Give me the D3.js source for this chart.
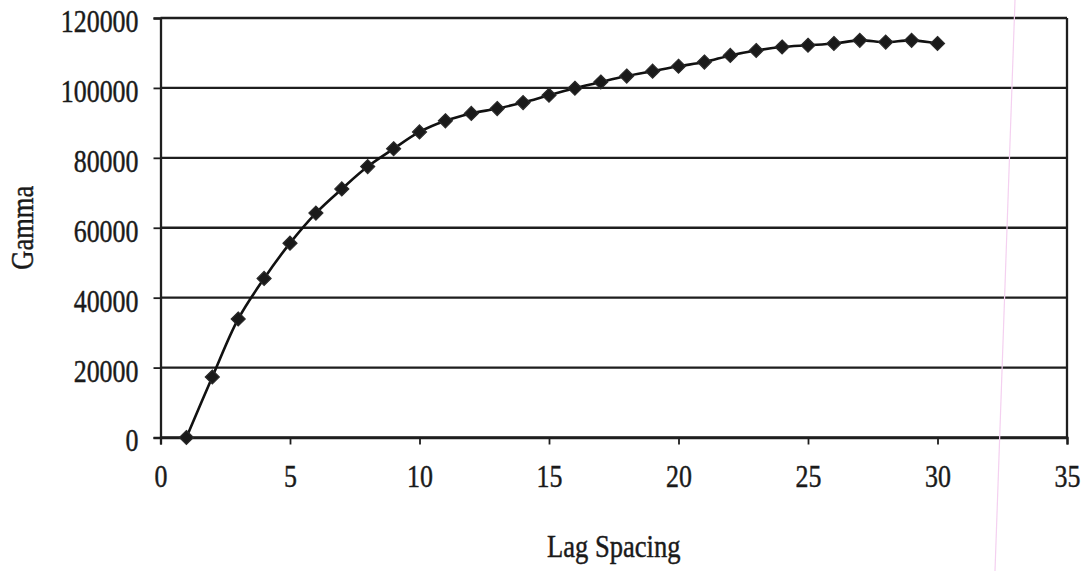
<!DOCTYPE html>
<html>
<head>
<meta charset="utf-8">
<script src="https://cdn.jsdelivr.net/npm/d3@7"></script>
<style>
  html, body { margin: 0; padding: 0; background: #fff; }
  svg { display: block; }
  text { font-family: "Liberation Serif", "Times New Roman", serif; fill: #1a1a1a; stroke: #1a1a1a; stroke-width: 0.45px; }
</style>
</head>
<body>
<svg id="chart" width="1084" height="571"></svg>
<script>
// ---- data ----
const lags = [1,2,3,4,5,6,7,8,9,10,11,12,13,14,15,16,17,18,19,20,21,22,23,24,25,26,27,28,29,30];
const gamma = [0,17300,33900,45500,55600,64200,71100,77500,82600,87400,90600,92700,94100,95800,97900,99900,101700,103400,104800,106200,107400,109300,110700,111700,112200,112700,113600,113100,113600,112700];
const xTicks = [0,5,10,15,20,25,30,35];
const yTicks = [0,20000,40000,60000,80000,100000,120000];
const xTitle = "Lag Spacing";
const yTitle = "Gamma";

const W = 1084, H = 571;
const m = { left: 160.5, right: W - 1067, top: 18, bottom: H - 437.5 };
const svg = d3.select("#chart");

const x = d3.scaleLinear().domain([0, 35]).range([m.left, W - m.right]);
const y = d3.scaleLinear().domain([0, 120000]).range([H - m.bottom, m.top]);

const ink = "#1e1e1e";

function condense(sel, f) {
  sel.each(function () {
    const len = this.getComputedTextLength();
    d3.select(this).attr("textLength", len * f).attr("lengthAdjust", "spacingAndGlyphs");
  });
}

// gridlines
svg.append("g").selectAll("line").data(yTicks).join("line")
  .attr("x1", x(0)).attr("x2", x(35))
  .attr("y1", d => y(d)).attr("y2", d => y(d))
  .attr("stroke", ink).attr("stroke-width", 2.3);

// right border
svg.append("line")
  .attr("x1", x(35)).attr("x2", x(35)).attr("y1", y(120000)).attr("y2", y(0))
  .attr("stroke", ink).attr("stroke-width", 2.3);

// y axis
const yAxis = svg.append("g").attr("transform", `translate(${x(0)},0)`)
  .call(d3.axisLeft(y).tickValues(yTicks).tickFormat(d3.format("d")).tickSize(7).tickPadding(15));
yAxis.select(".domain").attr("stroke", ink).attr("stroke-width", 2.3);
yAxis.selectAll(".tick line").attr("stroke", ink).attr("stroke-width", 1.8);
yAxis.selectAll(".tick text").attr("font-size", 32).attr("dy", "0.42em").attr("fill", ink)
  .call(condense, 0.81);

// x axis
const xAxis = svg.append("g").attr("transform", `translate(0,${y(0)})`)
  .call(d3.axisBottom(x).tickValues(xTicks).tickSize(7).tickPadding(20));
xAxis.select(".domain").attr("stroke", ink).attr("stroke-width", 2.3);
xAxis.selectAll(".tick line").attr("stroke", ink).attr("stroke-width", 1.8);
xAxis.selectAll(".tick text").attr("font-size", 32).attr("fill", ink)
  .call(condense, 0.81);

// axis titles
svg.append("text").attr("x", (x(0) + x(35)) / 2 - 0).attr("y", 557)
  .attr("text-anchor", "middle").attr("font-size", 32).attr("fill", ink)
  .text(xTitle).call(condense, 0.83);
svg.append("text")
  .attr("transform", `translate(33,${(y(0) + y(120000)) / 2}) rotate(-90)`)
  .attr("text-anchor", "middle").attr("font-size", 32).attr("fill", ink)
  .text(yTitle).call(condense, 0.83);

// line
const pts = lags.map((l, i) => [l, gamma[i]]);
svg.append("path").datum(pts)
  .attr("fill", "none").attr("stroke", "#111").attr("stroke-width", 2.6)
  .attr("d", d3.line().x(d => x(d[0])).y(d => y(d[1])).curve(d3.curveCatmullRom.alpha(0.5)));

// diamond markers
const r = 7;
svg.append("g").selectAll("path").data(pts).join("path")
  .attr("transform", d => `translate(${x(d[0])},${y(d[1])})`)
  .attr("d", `M0,${-r}L${r},0L0,${r}L${-r},0Z`)
  .attr("fill", "#1a1a1a").attr("stroke", "#2a2a2a").attr("stroke-width", 1.2);

// scan artifact (faint pink line)
svg.append("line").attr("x1", 1015).attr("y1", 0).attr("x2", 995).attr("y2", H)
  .attr("stroke", "#f4d0f0").attr("stroke-width", 1.2);
</script>
</body>
</html>
